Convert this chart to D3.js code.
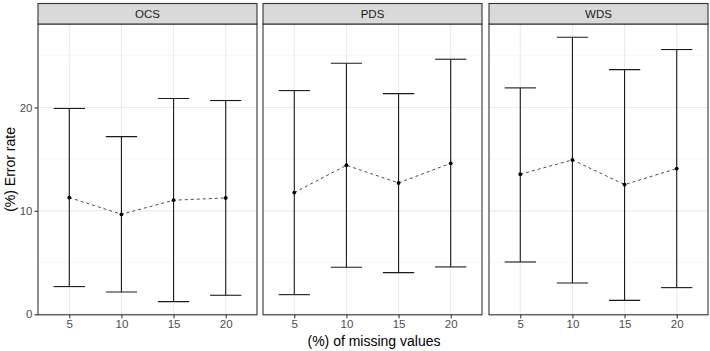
<!DOCTYPE html>
<html><head><meta charset="utf-8">
<script src="https://cdn.jsdelivr.net/npm/d3@7"></script>
<style>body{margin:0;background:#fff}svg{display:block}text{font-family:"Liberation Sans",Arial,Helvetica,sans-serif}</style>
</head><body><svg id="c" width="710" height="351"></svg>
<script>
const categories = ["5", "10", "15", "20"];
const panels = ["OCS", "PDS", "WDS"];
const ocsMean = [11.29, 9.67, 11.03, 11.25];
const ocsLow  = [2.68, 2.16, 1.23, 1.84];
const ocsHigh = [19.9, 17.18, 20.86, 20.67];
const pdsMean = [11.77, 14.41, 12.70, 14.60];
const pdsLow  = [1.90, 4.55, 4.03, 4.58];
const pdsHigh = [21.63, 24.27, 21.34, 24.66];
const wdsMean = [13.54, 14.93, 12.54, 14.09];
const wdsLow  = [5.06, 3.03, 1.35, 2.58];
const wdsHigh = [21.89, 26.79, 23.66, 25.6];
const yTicks = [0, 10, 20];
const yMinor = [5, 15, 25];

const series = {
  OCS: {mean: ocsMean, low: ocsLow, high: ocsHigh},
  PDS: {mean: pdsMean, low: pdsLow, high: pdsHigh},
  WDS: {mean: wdsMean, low: wdsLow, high: wdsHigh}
};

const svg = d3.select("#c");
const panelLeft = [38, 263, 489];
const panelW = 219;
const stripTop = 3.5, panelTop = 24, panelBottom = 314.8;

const all = panels.flatMap(p => series[p].low.concat(series[p].high));
const lo = d3.min(all), hi = d3.max(all), ex = (hi - lo) * 0.05;
const y = d3.scaleLinear().domain([lo - ex, hi + ex]).range([panelBottom, panelTop]);

panels.forEach((p, i) => {
  const x0 = panelLeft[i];
  const x = d3.scalePoint().domain(categories).range([x0, x0 + panelW]).padding(0.6);
  const step = x.step();
  const g = svg.append("g");
  g.append("rect").attr("x", x0).attr("y", panelTop).attr("width", panelW).attr("height", panelBottom - panelTop).attr("fill", "#fff");
  g.selectAll(".mn").data(yMinor).join("line")
    .attr("x1", x0).attr("x2", x0 + panelW).attr("y1", d => y(d)).attr("y2", d => y(d))
    .attr("stroke", "#f2f2f2").attr("stroke-width", 0.6);
  g.selectAll(".mj").data(yTicks).join("line")
    .attr("x1", x0).attr("x2", x0 + panelW).attr("y1", d => y(d)).attr("y2", d => y(d))
    .attr("stroke", "#ebebeb").attr("stroke-width", 1.1);
  g.selectAll(".vg").data(categories).join("line")
    .attr("x1", d => x(d)).attr("x2", d => x(d)).attr("y1", panelTop).attr("y2", panelBottom)
    .attr("stroke", "#ebebeb").attr("stroke-width", 1.1);

  const s = series[p];
  const rows = categories.map((c, k) => ({c, m: s.mean[k], l: s.low[k], h: s.high[k]}));
  const hw = step * 0.3;
  const eb = g.selectAll(".eb").data(rows).join("g").attr("stroke", "#1a1a1a").attr("stroke-width", 1.1);
  eb.append("line").attr("x1", d => x(d.c)).attr("x2", d => x(d.c)).attr("y1", d => y(d.l)).attr("y2", d => y(d.h));
  eb.append("line").attr("x1", d => x(d.c) - hw).attr("x2", d => x(d.c) + hw).attr("y1", d => y(d.l)).attr("y2", d => y(d.l));
  eb.append("line").attr("x1", d => x(d.c) - hw).attr("x2", d => x(d.c) + hw).attr("y1", d => y(d.h)).attr("y2", d => y(d.h));

  const line = d3.line().x(d => x(d.c)).y(d => y(d.m));
  g.append("path").datum(rows).attr("d", line).attr("fill", "none")
    .attr("stroke", "#1a1a1a").attr("stroke-width", 0.8).attr("stroke-dasharray", "3,3");
  g.selectAll(".pt").data(rows).join("circle")
    .attr("cx", d => x(d.c)).attr("cy", d => y(d.m)).attr("r", 1.9).attr("fill", "#000");

  g.append("rect").attr("x", x0).attr("y", panelTop).attr("width", panelW).attr("height", panelBottom - panelTop)
    .attr("fill", "none").attr("stroke", "#333").attr("stroke-width", 1.1);
  g.append("rect").attr("x", x0).attr("y", stripTop).attr("width", panelW).attr("height", panelTop - stripTop)
    .attr("fill", "#d9d9d9").attr("stroke", "#333").attr("stroke-width", 1.1);
  g.append("text").attr("x", x0 + panelW / 2).attr("y", (stripTop + panelTop) / 2 + 4.2)
    .attr("text-anchor", "middle").attr("font-size", 11.5).attr("fill", "#1a1a1a").text(p);

  const xa = g.append("g").attr("transform", `translate(0,${panelBottom})`).call(d3.axisBottom(x).tickSize(3.5).tickPadding(2));
  xa.select(".domain").remove();
  xa.selectAll("line").attr("stroke", "#333").attr("stroke-width", 1.1);
  xa.selectAll("text").attr("font-size", 11.5).attr("fill", "#4d4d4d").attr("font-family", '"Liberation Sans",Arial,sans-serif');

  if (i === 0) {
    const ya = g.append("g").attr("transform", `translate(${x0},0)`).call(d3.axisLeft(y).tickValues(yTicks).tickSize(3.5).tickPadding(2));
    ya.select(".domain").remove();
    ya.selectAll("line").attr("stroke", "#333").attr("stroke-width", 1.1);
    ya.selectAll("text").attr("font-size", 11.5).attr("fill", "#4d4d4d").attr("font-family", '"Liberation Sans",Arial,sans-serif');
  }
});

svg.append("text").attr("x", (panelLeft[0] + panelLeft[2] + panelW) / 2 + 1).attr("y", 345.5)
  .attr("text-anchor", "middle").attr("font-size", 14).attr("fill", "#000").text("(%) of missing values");
svg.append("text").attr("transform", `translate(15,${(panelTop + panelBottom) / 2}) rotate(-90)`)
  .attr("text-anchor", "middle").attr("font-size", 14).attr("fill", "#000").text("(%) Error rate");
</script></body></html>
